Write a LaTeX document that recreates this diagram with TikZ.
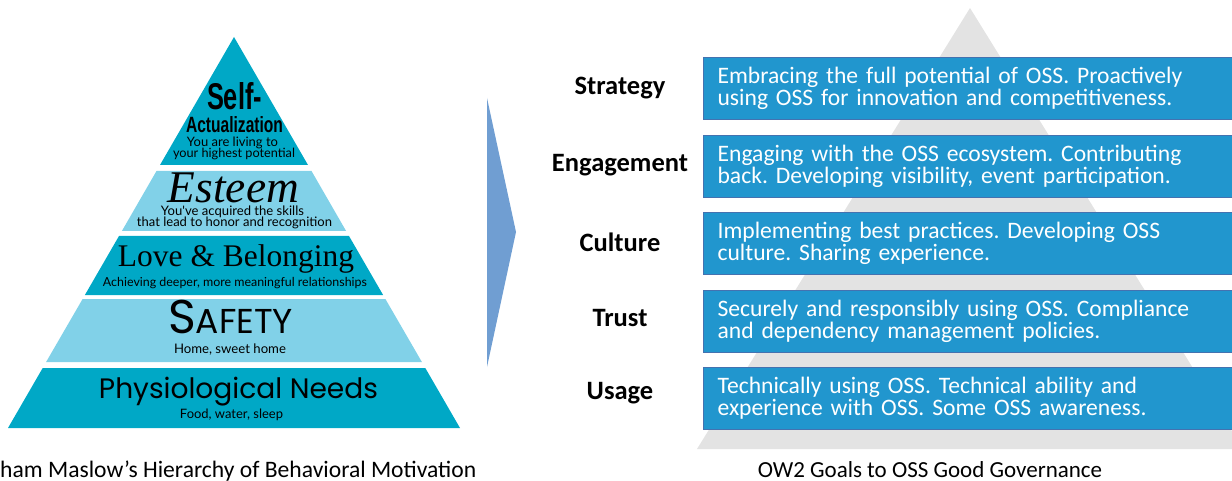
\documentclass[tikz,border=0pt]{standalone}
\usepackage{fontspec}
\setmainfont{Carlito}
\newfontfamily\pyrsans{Liberation Sans}
\newfontfamily\pyrserif{Liberation Serif}
\newfontfamily\pyrgeo{Poppins}
\newfontfamily\pyrsmall{Lato}
\definecolor{pyrdark}{RGB}{0,168,198}
\definecolor{pyrlight}{RGB}{129,209,232}
\definecolor{goalblue}{RGB}{33,150,206}
\definecolor{goaledge}{RGB}{68,114,176}
\definecolor{chevblue}{RGB}{112,158,210}
\definecolor{backgray}{RGB}{227,227,227}
\newcommand{\fitw}[2]{\resizebox{#1}{!}{#2}}
\newcommand{\nodepth}[1]{\raisebox{0pt}[\height][0pt]{#1}}
\frenchspacing

\begin{document}
\begin{tikzpicture}[x=1pt,y=-1pt]
\tikzstyle{every node}+=[inner sep=0pt]
\tikzstyle{goalbox}=[draw=goaledge, line width=1.2pt, fill=goalblue, text=white, anchor=north west, minimum height=62pt, text width=522pt, inner xsep=14pt, align=left, font=\fontsize{23.6}{22}\selectfont]
\tikzstyle{stagelabel}=[font=\bfseries\fontsize{26.5}{26.5}\selectfont]
\tikzstyle{caption}=[anchor=base, font=\fontsize{23}{23}\selectfont]
\tikzstyle{pyrtext}=[anchor=base]
\useasboundingbox (0,0) rectangle (1232,481);
\clip (0,0) rectangle (1232,481);
% grey pyramid behind the goals, and the chevron
\fill [backgray] (970,8) -- (1243,449) -- (697,449) -- cycle;
\fill [chevblue] (487,98) -- (516,232) -- (487,367) -- cycle;
% Maslow levels, top to bottom
\fill [pyrdark] (234,37) -- (308,165) -- (160,165) -- cycle;
\fill [pyrlight] (156.5,171) -- (311.5,171) -- (346.1,231) -- (121.9,231) -- cycle;
\fill [pyrdark] (119,236) -- (349,236) -- (383.1,295) -- (84.9,295) -- cycle;
\fill [pyrlight] (82.6,299) -- (385.4,299) -- (421.9,362) -- (46.1,362) -- cycle;
\fill [pyrdark] (42.7,368) -- (425.3,368) -- (460,428) -- (8,428) -- cycle;
\node [pyrtext] (self) at (234.5,110) {\resizebox{55pt}{27pt}{\pyrsans\bfseries Self-}};
\node [pyrtext] (actual) at (234.5,133) {\resizebox{97pt}{16pt}{\pyrsans\bfseries Actualization}};
\node [pyrtext] (living) at (232.5,147) {\fitw{91pt}{\pyrsmall You are living to}};
\node [pyrtext] (potential) at (234,158) {\fitw{122pt}{\pyrsmall your highest potential}};
\node [pyrtext] (esteem) at (233.5,203) {\nodepth{\fitw{131pt}{\pyrserif\itshape Esteem}}};
\node [pyrtext] (skills) at (232.5,216) {\fitw{143pt}{\pyrsmall You've acquired the skills}};
\node [pyrtext] (honor) at (234.5,227) {\fitw{195pt}{\pyrsmall that lead to honor and recognition}};
\node [pyrtext] (love) at (236,267) {\fitw{236pt}{\pyrserif Love \& Belonging}};
\node [pyrtext] (deeper) at (235,287) {\fitw{264pt}{\pyrsmall Achieving deeper, more meaningful relationships}};
\node [pyrtext] (safety) at (230.5,333) {\nodepth{\fitw{125pt}{\pyrgeo\fontsize{26}{26}\selectfont S\fontsize{19}{19}\selectfont AFETY}}};
\node [pyrtext] (home) at (230,353) {\fitw{112pt}{\pyrsmall Home, sweet home}};
\node [pyrtext] (physio) at (238.5,398) {\fitw{279pt}{\pyrgeo Physiological Needs}};
\node [pyrtext] (food) at (231.5,418) {\fitw{103pt}{\pyrsmall Food, water, sleep}};
% OW2 goals
\node [goalbox] (strategybox) at (703,57) {Embracing the full potential of OSS. Proactively\\using OSS for innovation and competitiveness.};
\node [goalbox] (engagebox) at (703,135) {Engaging with the OSS ecosystem. Contributing\\back. Developing visibility, event participation.};
\node [goalbox] (culturebox) at (703,212) {Implementing best practices. Developing OSS\\culture. Sharing experience.};
\node [goalbox] (trustbox) at (703,290) {Securely and responsibly using OSS. Compliance\\and dependency management policies.};
\node [goalbox] (usagebox) at (703,367) {Technically using OSS. Technical ability and\\experience with OSS. Some OSS awareness.};
\node [stagelabel] (strategy) at (620,88) {Strategy};
\node [stagelabel] (engage) at (620,165) {Engagement};
\node [stagelabel] (culture) at (620,242) {Culture};
\node [stagelabel] (trust) at (620,318) {Trust};
\node [stagelabel] (usage) at (620,393) {Usage};
% captions
\node [caption, anchor=base west, font=\fontsize{23.6}{23.6}\selectfont] (maslowcap) at (0,477) {ham Maslow’s Hierarchy of Behavioral Motivation};
\node [caption] (ow2cap) at (930,477) {OW2 Goals to OSS Good Governance};
\end{tikzpicture}
\end{document}
